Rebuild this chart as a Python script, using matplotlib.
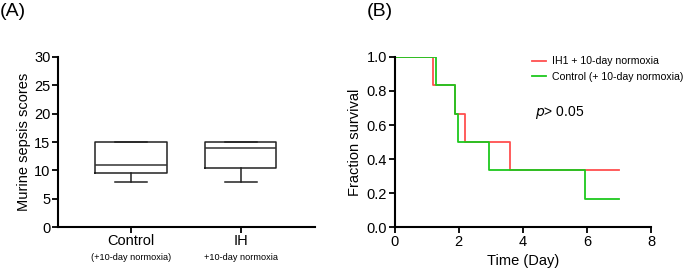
import matplotlib.pyplot as plt

plt.rcParams['font.family'] = ['Liberation Sans', 'DejaVu Sans']

# Panel A: box plot stats
groups = ['Control', 'IH']
sublabels = ['(+10-day normoxia)', '+10-day normoxia']
q1 = [9.6, 10.4]
med = [11.0, 14.0]
q3 = [15.0, 15.0]
wlo = [8.0, 8.0]
whi = [15.0, 15.0]

# Panel B: survival steps
red_t = [0, 1.2, 1.9, 2.2, 3.6, 7.0]
red_s = [1.0, 0.833, 0.667, 0.5, 0.333, 0.333]
green_t = [0, 1.3, 1.9, 1.97, 2.95, 5.95, 7.0]
green_s = [1.0, 0.833, 0.667, 0.5, 0.333, 0.167, 0.167]

fig = plt.figure(figsize=(6.85, 2.70), dpi=100)
axA = fig.add_axes([0.0847, 0.159, 0.375, 0.63])
axB = fig.add_axes([0.576, 0.159, 0.3745, 0.63])

stats = []
for i in range(len(groups)):
    stats.append({'q1': q1[i], 'med': med[i], 'q3': q3[i],
                  'whislo': wlo[i], 'whishi': whi[i], 'fliers': []})
lw = 1.1
axA.bxp(stats, positions=[1, 2], widths=0.65, capwidths=0.29,
        showfliers=False,
        boxprops=dict(color='#222222', linewidth=lw),
        medianprops=dict(color='#333333', linewidth=lw),
        whiskerprops=dict(color='#222222', linewidth=lw),
        capprops=dict(color='#222222', linewidth=lw))
axA.set_xlim(0.335, 2.677)
axA.set_ylim(0, 30)
axA.set_yticks([0, 5, 10, 15, 20, 25, 30])
axA.set_xticks([1, 2])
axA.set_xticklabels(['', ''])
for i, (g, s) in enumerate(zip(groups, sublabels)):
    axA.text(i + 1, -0.08, g, transform=axA.get_xaxis_transform(),
             ha='center', va='center', fontsize=10.5)
    axA.text(i + 1, -0.178, s, transform=axA.get_xaxis_transform(),
             ha='center', va='center', fontsize=6.6)
axA.set_ylabel('Murine sepsis scores', fontsize=10.5, labelpad=2)

axB.step(red_t, red_s, where='post', color='#ff4f4f', linewidth=1.3,
         label='IH1 + 10-day normoxia')
axB.step(green_t, green_s, where='post', color='#1ec81e', linewidth=1.3,
         label='Control (+ 10-day normoxia)')
axB.set_xlim(0, 8)
axB.set_ylim(0, 1.0)
axB.set_xticks([0, 2, 4, 6, 8])
axB.set_yticks([0, 0.2, 0.4, 0.6, 0.8, 1.0])
axB.set_yticklabels(['0.0', '0.2', '0.4', '0.6', '0.8', '1.0'])
axB.set_xlabel('Time (Day)', fontsize=10.5, labelpad=4)
axB.set_ylabel('Fraction survival', fontsize=10.5, labelpad=3)
axB.text(4.38, 0.676, r'$p$> 0.05', fontsize=10, va='center', ha='left')
axB.legend(loc='upper left', bbox_to_anchor=(0.5, 1.06), frameon=False,
           fontsize=7.6, handlelength=1.3, handletextpad=0.6,
           labelspacing=0.55)

for ax in (axA, axB):
    for side in ('top', 'right'):
        ax.spines[side].set_visible(False)
    for side in ('left', 'bottom'):
        ax.spines[side].set_linewidth(1.5)
    ax.tick_params(direction='out', length=4, width=1.3, labelsize=10.5,
                   pad=1.5, colors='black')

fig.text(0.0, 0.99, '(A)', fontsize=14, ha='left', va='top')
fig.text(0.535, 0.99, '(B)', fontsize=14, ha='left', va='top')

fig.savefig('out.png', dpi=100)
